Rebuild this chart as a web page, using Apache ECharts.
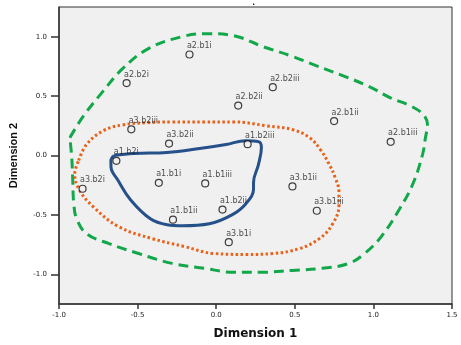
<!DOCTYPE html>
<html>
<head>
<meta charset="utf-8">
<script src="https://cdn.jsdelivr.net/npm/echarts@6/dist/echarts.min.js"></script>
<style>
html, body { margin: 0; padding: 0; background: #fff; }
#main { width: 461px; height: 345px; }
</style>
</head>
<body>
<div id="main"></div>
<script>
// point labels and their coordinates
var names = ['a2.b1i', 'a2.b2i', 'a3.b2iii', 'a3.b2ii', 'a1.b2i', 'a2.b2iii', 'a2.b2ii', 'a2.b1ii', 'a2.b1iii', 'a1.b2iii',
             'a3.b2i', 'a1.b1i', 'a1.b1iii', 'a1.b1ii', 'a1.b2ii', 'a3.b1i', 'a3.b1ii', 'a3.b1iii'];
var dim1 = [-0.17, -0.57, -0.54, -0.30, -0.635, 0.36, 0.14, 0.75, 1.11, 0.20,
            -0.85, -0.365, -0.07, -0.275, 0.04, 0.08, 0.485, 0.64];
var dim2 = [0.85, 0.61, 0.22, 0.10, -0.045, 0.575, 0.42, 0.29, 0.115, 0.095,
            -0.28, -0.23, -0.235, -0.54, -0.455, -0.73, -0.26, -0.465];

// hand drawn outlines
var greenCurve = [[-0.931, 0.15], [-0.844, 0.333], [-0.719, 0.542], [-0.594, 0.733], [-0.431, 0.9], [-0.219, 1.0],
  [-0.056, 1.025], [0.1125, 1.008], [0.3, 0.915], [0.4875, 0.833], [0.631, 0.758], [0.8, 0.675], [0.969, 0.583],
  [1.1125, 0.483], [1.2375, 0.417], [1.319, 0.342], [1.344, 0.258], [1.331, 0.15], [1.3125, 0.008], [1.25, -0.242],
  [1.1625, -0.458], [1.05, -0.683], [0.944, -0.825], [0.844, -0.908], [0.675, -0.95], [0.4875, -0.967], [0.281, -0.983],
  [0.1125, -0.983], [-0.075, -0.95], [-0.281, -0.908], [-0.494, -0.825], [-0.681, -0.742], [-0.825, -0.658],
  [-0.8875, -0.533], [-0.906, -0.408], [-0.9125, -0.208], [-0.919, -0.017], [-0.931, 0.15]];

var orangeCurve = [[-0.875, -0.042], [-0.825, 0.092], [-0.719, 0.208], [-0.594, 0.258], [-0.45, 0.275], [-0.281, 0.283],
  [-0.075, 0.283], [0.1125, 0.283], [0.319, 0.25], [0.4875, 0.217], [0.594, 0.15], [0.6625, 0.05], [0.719, -0.075],
  [0.756, -0.183], [0.781, -0.308], [0.781, -0.417], [0.7375, -0.583], [0.656, -0.7], [0.531, -0.783], [0.3625, -0.825],
  [0.194, -0.833], [-0.0125, -0.825], [-0.2, -0.767], [-0.406, -0.7], [-0.619, -0.6], [-0.781, -0.433], [-0.869, -0.292],
  [-0.9, -0.158], [-0.875, -0.042]];

var blueCurve = [[-0.65, 0.0], [-0.525, 0.017], [-0.3125, 0.025], [-0.106, 0.058], [0.0625, 0.092], [0.1875, 0.125],
  [0.269, 0.117], [0.2875, 0.067], [0.269, -0.075], [0.2375, -0.225], [0.2375, -0.283], [0.1875, -0.408], [0.1, -0.5],
  [-0.044, -0.575], [-0.2125, -0.592], [-0.3125, -0.583], [-0.419, -0.533], [-0.544, -0.375], [-0.625, -0.208],
  [-0.669, -0.1], [-0.67, -0.042], [-0.65, 0.0]];

var yTicks = [-1.0, -0.5, 0.0, 0.5, 1.0];

var pts = names.map(function (n, i) {
    return { name: n, value: [dim1[i], dim2[i]] };
});

var myChart = echarts.init(document.getElementById('main'));

var tickFmt = function (v) { return Number(v).toFixed(1); };

var option = {
    animation: false,
    title: {
        text: '.',
        left: 247,
        top: -9,
        textStyle: { fontSize: 12, color: '#000', fontWeight: 'normal' }
    },
    grid: {
        left: 52, right: 9, top: 7, bottom: 37,
        show: true,
        backgroundColor: '#f0f0f0',
        borderColor: '#333',
        borderWidth: 1
    },
    xAxis: {
        type: 'value',
        min: -1.0, max: 1.5, interval: 0.5,
        name: 'Dimension 1',
        nameLocation: 'middle',
        nameGap: 24,
        nameTextStyle: { fontFamily: 'DejaVu Sans', fontWeight: 'bold', fontSize: 12, color: '#111' },
        axisLine: { onZero: false, lineStyle: { color: '#333', width: 1.5 } },
        axisTick: { length: 5, lineStyle: { color: '#333', width: 1.5 } },
        axisLabel: { formatter: tickFmt, fontFamily: 'DejaVu Sans', fontSize: 7, color: '#222', margin: 8 },
        splitLine: { show: false }
    },
    yAxis: {
        type: 'value',
        min: -1.25, max: 1.25,
        name: 'Dimension 2',
        nameLocation: 'middle',
        nameGap: 40,
        nameTextStyle: { fontFamily: 'Liberation Sans', fontWeight: 'bold', fontSize: 11, color: '#111' },
        axisLine: { show: true, onZero: false, lineStyle: { color: '#333', width: 1.5 } },
        axisTick: { show: true, length: 8, customValues: yTicks, lineStyle: { color: '#333', width: 1.5 } },
        axisLabel: { customValues: yTicks, formatter: tickFmt, fontFamily: 'DejaVu Sans', fontSize: 7, color: '#222', margin: 12 },
        splitLine: { show: false }
    },
    series: [{
        type: 'line',
        data: greenCurve,
        smooth: 0.4,
        symbol: 'none',
        lineStyle: { color: '#12a84a', width: 3, type: [10, 6] },
        z: 2
    }, {
        type: 'line',
        data: orangeCurve,
        smooth: 0.4,
        symbol: 'none',
        lineStyle: { color: '#e8621a', width: 3, type: [2.5, 2.5] },
        z: 2
    }, {
        type: 'line',
        data: blueCurve,
        smooth: 0.4,
        symbol: 'none',
        lineStyle: { color: '#25508a', width: 3 },
        z: 2
    }, {
        type: 'scatter',
        data: pts,
        symbol: 'circle',
        symbolSize: 7,
        itemStyle: { color: '#f0f0f0', borderColor: '#111', borderWidth: 1.2 },
        label: {
            show: true,
            formatter: '{b}',
            position: [1.5, -8.5],
            align: 'left',
            verticalAlign: 'top',
            fontFamily: 'DejaVu Sans',
            fontSize: 8,
            color: '#222'
        },
        z: 3
    }]
};

myChart.setOption(option);
</script>
</body>
</html>
